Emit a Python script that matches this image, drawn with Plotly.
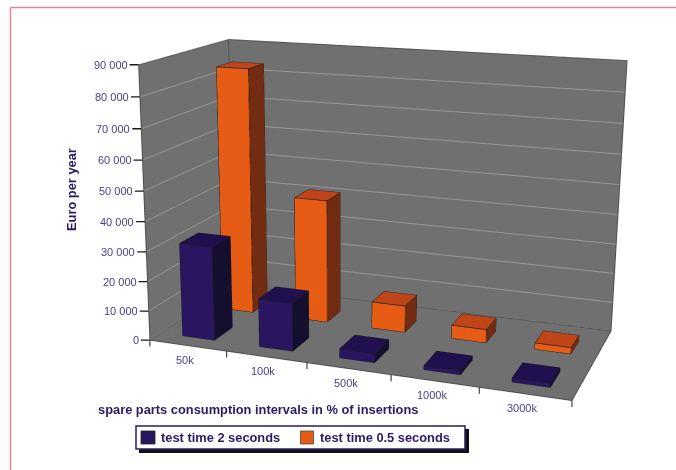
import plotly.graph_objects as go

# Annual cost per spare parts interval, one series per test time
categories = ["50k", "100k", "500k", "1000k", "3000k"]
test_2s = [31600, 16100, 3000, 1300, 1300]
test_05s = [84500, 42300, 9100, 4500, 2100]
series_names = ["test time 2 seconds", "test time 0.5 seconds"]
z_ticks = list(range(0, 90001, 10000))
z_labels = ["0"] + [f"{v // 1000} 000" for v in z_ticks[1:]]

W, H = 676, 470
Z_MAX = 90000
BAR_X = (0.29, 0.71)           # bar span within one category slot
ROWS = {"front": (0.12, 0.33), "back": (0.59, 0.78)}   # depth span of each series
PURPLE = dict(front="#2a1660", top="#21104f", side="#140f2e")
ORANGE = dict(front="#e65c14", top="#bf4518", side="#722c12")
WALL = "#707070"
GRID = "#969696"
EDGE = "#505050"
LABEL = "#4b3d8a"
TITLE = "#2d1a66"
FRAME = "#e8858f"
TICK_FONT = dict(family="Liberation Sans, sans-serif", size=11, color=LABEL)
BOLD_FONT = dict(family="Liberation Sans, sans-serif", size=12.85, color=TITLE)


def add_bar(fig, slot, row, value, colours):
    """One cuboid: six faces as a mesh plus its visible edges."""
    x0, x1 = slot + BAR_X[0], slot + BAR_X[1]
    y0, y1 = ROWS[row]
    xs = [x0, x1, x1, x0, x0, x1, x1, x0]
    ys = [y0, y0, y1, y1, y0, y0, y1, y1]
    zs = [0, 0, 0, 0, value, value, value, value]
    faces = [
        ((0, 1, 5), "front"), ((0, 5, 4), "front"),
        ((1, 2, 6), "side"), ((1, 6, 5), "side"),
        ((4, 5, 6), "top"), ((4, 6, 7), "top"),
        ((0, 3, 7), "side"), ((0, 7, 4), "side"),
        ((3, 2, 6), "front"), ((3, 6, 7), "front"),
        ((0, 1, 2), "top"), ((0, 2, 3), "top"),
    ]
    fig.add_trace(go.Mesh3d(
        x=xs, y=ys, z=zs,
        i=[f[0][0] for f in faces], j=[f[0][1] for f in faces], k=[f[0][2] for f in faces],
        facecolor=[colours[f[1]] for f in faces],
        flatshading=True, hoverinfo="skip",
        lighting=dict(ambient=1, diffuse=0, specular=0, roughness=1, fresnel=0),
    ))
    path = [0, 1, 5, 4, 0, None, 4, 7, 6, 5, None, 1, 2, 6]
    fig.add_trace(go.Scatter3d(
        x=[None if n is None else xs[n] for n in path],
        y=[None if n is None else ys[n] for n in path],
        z=[None if n is None else zs[n] for n in path],
        mode="lines", line=dict(color="#1a1a1a", width=1.5), hoverinfo="skip",
    ))


fig = go.Figure()

# Outline of the floor and the two walls
nc = len(categories)
fig.add_trace(go.Scatter3d(
    x=[0, nc, nc, 0, 0, 0, 0, nc, nc, None, 0, 0],
    y=[0, 0, 1, 1, 0, 0, 1, 1, 1, None, 1, 1],
    z=[0, 0, 0, 0, 0, Z_MAX, Z_MAX, Z_MAX, 0, None, 0, Z_MAX],
    mode="lines", line=dict(color=EDGE, width=2), hoverinfo="skip",
))

for slot, (low, high) in enumerate(zip(test_2s, test_05s)):
    add_bar(fig, slot, "back", high, ORANGE)
    add_bar(fig, slot, "front", low, PURPLE)

scene_notes = []
for value, text in zip(z_ticks, z_labels):
    scene_notes.append(dict(x=0, y=0, z=value, text=text, font=TICK_FONT, xanchor="right",
                            showarrow=True, arrowhead=0, arrowwidth=1.3, arrowcolor="#1a1a1a",
                            ax=-9, ay=0, standoff=0))
for slot in range(nc + 1):
    scene_notes.append(dict(x=slot, y=0, z=0, text="", showarrow=True, arrowhead=0,
                            arrowwidth=1.1, arrowcolor="#333333", ax=0, ay=8, standoff=0))
for slot, name in enumerate(categories):
    scene_notes.append(dict(x=slot + 0.5, y=0, z=0, text=name, font=TICK_FONT, showarrow=False,
                            xshift=-3, yshift=-14.5))


def axis(**kw):
    base = dict(showticklabels=False, showgrid=False, zeroline=False, showline=False, ticks="",
                showspikes=False, showbackground=True, backgroundcolor=WALL, title="")
    base.update(kw)
    return base


fig.update_layout(
    width=W, height=H, margin=dict(l=0, r=0, t=0, b=0), paper_bgcolor="white", showlegend=False,
    scene=dict(
        domain=dict(x=[0, 1], y=[0, 1]),
        xaxis=axis(range=[0, nc]),
        yaxis=axis(range=[0, 1]),
        zaxis=axis(range=[0, Z_MAX], showgrid=True, gridcolor=GRID, gridwidth=2, tickvals=z_ticks),
        aspectmode="manual", aspectratio=dict(x=1, y=0.457, z=0.65),
        camera=dict(eye=dict(x=0.9822, y=-2.8174, z=0.7682),
                    center=dict(x=-0.0727, y=-0.1061, z=-0.0563),
                    up=dict(x=0.0016, y=0, z=1)),
        annotations=scene_notes,
    ),
)


def px(x):
    return x / W


def py(y):
    return 1 - y / H


def rect(x0, y0, x1, y1, fill, line=None, width=0):
    return dict(type="rect", xref="paper", yref="paper", x0=px(x0), y0=py(y0), x1=px(x1), y1=py(y1),
                fillcolor=fill, line=dict(color=line or fill, width=width))


# Page frame and the legend box with its drop shadow
fig.update_layout(shapes=[
    dict(type="line", xref="paper", yref="paper", x0=px(10.5), y0=py(7.5), x1=px(10.5), y1=0,
         line=dict(color=FRAME, width=1.5)),
    dict(type="line", xref="paper", yref="paper", x0=px(10.5), y0=py(7.5), x1=1, y1=py(7.5),
         line=dict(color=FRAME, width=1.5)),
    rect(139, 429, 469, 453, "#111111"),
    rect(136, 426, 465, 449, "white", TITLE, 1.5),
    rect(141, 431, 155, 444, PURPLE["front"], "#222222", 0.8),
    rect(300.5, 431, 313.5, 444, ORANGE["front"], "#444444", 0.8),
])


def label(x, y, text, **kw):
    fig.add_annotation(x=px(x), y=py(y), xref="paper", yref="paper", text=text, showarrow=False,
                       font=BOLD_FONT, xanchor=kw.pop("xanchor", "left"), yanchor="middle",
                       borderpad=0, **kw)


label(97, 409, "<b>spare parts consumption intervals in % of insertions</b>")
label(71, 190, "<b>Euro per year</b>", textangle=-90, xanchor="center")
label(160, 437.5, f"<b>{series_names[0]}</b>")
label(318.5, 437.5, f"<b>{series_names[1]}</b>")

# Narrow the camera's field of view so the box converges only slightly
fig.write_html(
    "out.html",
    config=dict(displayModeBar=False),
    post_script="var s=document.querySelector('.plotly-graph-div')._fullLayout.scene._scene.glplot;"
                "s.fovy=20*Math.PI/180;s.redraw();",
)
